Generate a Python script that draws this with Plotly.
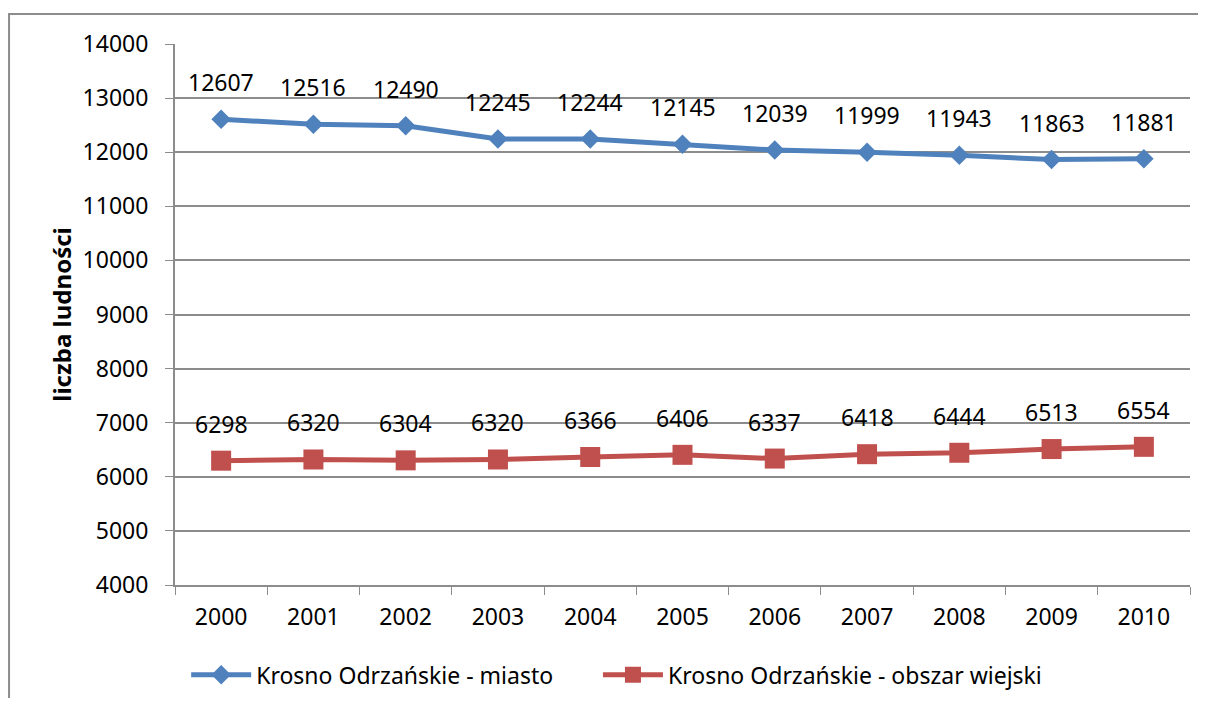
import plotly.graph_objects as go

years = ["2000", "2001", "2002", "2003", "2004", "2005", "2006", "2007", "2008", "2009", "2010"]
miasto = [12607, 12516, 12490, 12245, 12244, 12145, 12039, 11999, 11943, 11863, 11881]
wiejski = [6298, 6320, 6304, 6320, 6366, 6406, 6337, 6418, 6444, 6513, 6554]

BLUE = "#4F81BD"
RED = "#C0504D"
GRID = "#8C8C8C"
FONT = "Noto Sans"

fig = go.Figure()

fig.add_trace(
    go.Scatter(
        x=years,
        y=miasto,
        mode="lines+markers",
        name="Krosno Odrzańskie - miasto",
        line={"color": BLUE, "width": 5},
        marker={"symbol": "diamond", "size": 15, "color": BLUE},
        legend="legend",
    )
)

fig.add_trace(
    go.Scatter(
        x=years,
        y=wiejski,
        mode="lines+markers",
        name="Krosno Odrzańskie - obszar wiejski",
        line={"color": RED, "width": 5},
        marker={"symbol": "square", "size": 20, "color": RED},
        legend="legend2",
    )
)

# Data labels above the points
for series in (miasto, wiejski):
    for i, val in enumerate(series):
        fig.add_annotation(
            x=i,
            y=val,
            xref="x",
            yref="y",
            text=str(val),
            showarrow=False,
            yshift=37,
            font={"family": FONT, "size": 23, "color": "black"},
        )

# Outer chart border (page body has an 8px margin, figure is shifted)
fig.add_shape(
    type="rect",
    xref="paper",
    yref="paper",
    x0=-0.1635,
    x1=1.2,
    y0=-0.5,
    y1=1.0555,
    line={"color": "#8C8C8C", "width": 2},
    fillcolor="rgba(0,0,0,0)",
    layer="below",
)

fig.update_xaxes(
    type="category",
    tickson="boundaries",
    ticks="outside",
    ticklen=8,
    tickcolor=GRID,
    showgrid=False,
    showline=True,
    linecolor=GRID,
    linewidth=2,
    ticklabelstandoff=10,
    tickfont={"family": FONT, "size": 23, "color": "black"},
    range=[-0.5, 10.5],
    automargin=False,
)

fig.update_yaxes(
    range=[4000, 14000],
    dtick=1000,
    tickformat="d",
    ticks="outside",
    ticklen=8,
    tickcolor=GRID,
    showgrid=True,
    gridcolor=GRID,
    gridwidth=2,
    showline=True,
    linecolor=GRID,
    linewidth=2,
    zeroline=False,
    ticklabelstandoff=12,
    tickfont={"family": FONT, "size": 23, "color": "black"},
    title={"text": "<b>liczba ludności</b>", "font": {"family": FONT, "size": 24, "color": "black"}, "standoff": 4},
    automargin=False,
)

legend_style = {
    "orientation": "h",
    "y": -0.166,
    "xanchor": "left",
    "yanchor": "middle",
    "font": {"family": FONT, "size": 23, "color": "black"},
    "itemwidth": 60,
    "bgcolor": "rgba(0,0,0,0)",
}

fig.update_layout(
    width=1190,
    height=690,
    margin=dict(l=167, r=8, t=36, b=113, autoexpand=False),
    paper_bgcolor="white",
    plot_bgcolor="white",
    showlegend=True,
    legend=dict(legend_style, x=0.011),
    legend2=dict(legend_style, x=0.4167),
)

fig.write_html("out.html")
